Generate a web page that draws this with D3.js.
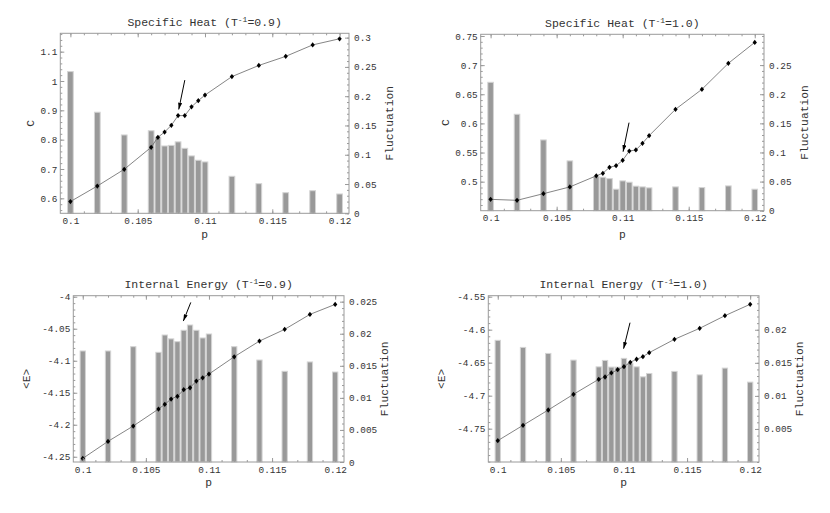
<!DOCTYPE html>
<html><head><meta charset="utf-8">
<script src="https://cdn.jsdelivr.net/npm/d3@7/dist/d3.min.js"></script>
<style>
body{margin:0;background:#fff}
svg{display:block}
text{font-family:"Liberation Mono","DejaVu Sans Mono",monospace;fill:#333}
</style>
</head><body>
<svg id="chart" width="830" height="513"></svg>
<script>
// ---------- data ----------
const pT09 = [0.1,0.102,0.104,0.106,0.1065,0.107,0.1075,0.108,0.1085,0.109,0.1095,0.11,0.112,0.114,0.116,0.118,0.12];
const pT10 = [0.1,0.102,0.104,0.106,0.108,0.1085,0.109,0.1095,0.11,0.1105,0.111,0.1115,0.112,0.114,0.116,0.118,0.12];

const heatT09 = [0.589,0.642,0.699,0.774,0.808,0.826,0.849,0.882,0.882,0.912,0.933,0.952,1.015,1.053,1.084,1.123,1.144];
const heatFluctT09 = [0.242,0.1726,0.1338,0.141,0.130,0.115,0.116,0.122,0.111,0.098,0.0906,0.0877,0.0632,0.0506,0.0352,0.0386,0.033];

const heatT10 = [0.4697,0.468,0.4794,0.491,0.510,0.5144,0.5247,0.5274,0.5367,0.5526,0.5544,0.5659,0.5789,0.6242,0.6585,0.7031,0.739];
const heatFluctT10 = [0.2205,0.1656,0.1215,0.0855,0.0585,0.0575,0.0551,0.0369,0.0512,0.0489,0.0421,0.0409,0.0392,0.0409,0.0397,0.0426,0.0369];

const energyT09 = [-4.2526,-4.226,-4.202,-4.1755,-4.1681,-4.1598,-4.1556,-4.1453,-4.1422,-4.1317,-4.1266,-4.1208,-4.0938,-4.0693,-4.051,-4.0276,-4.012];
const energyFluctT09 = [0.01731,0.01731,0.01798,0.0171,0.0198,0.0192,0.01876,0.02054,0.02136,0.02054,0.01934,0.01996,0.01798,0.0159,0.01414,0.0156,0.01403];

const energyT10 = [-4.7682,-4.7449,-4.7217,-4.6979,-4.6752,-4.6717,-4.6656,-4.6606,-4.6561,-4.6494,-4.6448,-4.6409,-4.6348,-4.6146,-4.5979,-4.5788,-4.5615];
const energyFluctT10 = [0.0184,0.01733,0.01642,0.01541,0.01439,0.01536,0.01435,0.01435,0.01567,0.01491,0.01439,0.01288,0.01339,0.0137,0.01318,0.0142,0.01208];

const xTicks = [0.1,0.105,0.11,0.115,0.12];
const xTickLabels = ["0.1","0.105","0.11","0.115","0.12"];

const heatT09Ticks = [0.6,0.7,0.8,0.9,1.0,1.1];
const heatT09Labels = ["0.6","0.7","0.8","0.9","1","1.1"];
const heatFluctT09Ticks = [0,0.05,0.1,0.15,0.2,0.25,0.3];
const heatFluctT09Labels = ["0","0.05","0.1","0.15","0.2","0.25","0.3"];

const heatT10Ticks = [0.5,0.55,0.6,0.65,0.7,0.75];
const heatT10Labels = ["0.5","0.55","0.6","0.65","0.7","0.75"];
const heatFluctT10Ticks = [0,0.05,0.1,0.15,0.2,0.25];
const heatFluctT10Labels = ["0","0.05","0.1","0.15","0.2","0.25"];

const energyT09Ticks = [-4,-4.05,-4.1,-4.15,-4.2,-4.25];
const energyT09Labels = ["-4","-4.05","-4.1","-4.15","-4.2","-4.25"];
const energyFluctT09Ticks = [0,0.005,0.01,0.015,0.02,0.025];
const energyFluctT09Labels = ["0","0.005","0.01","0.015","0.02","0.025"];

const energyT10Ticks = [-4.55,-4.6,-4.65,-4.7,-4.75];
const energyT10Labels = ["-4.55","-4.6","-4.65","-4.7","-4.75"];
const energyFluctT10Ticks = [0.005,0.01,0.015,0.02];
const energyFluctT10Labels = ["0.005","0.01","0.015","0.02"];

// arrows: [pStart, valueStart, pTip, valueTip]
const arrowHeatT09 = [0.1085, 1.003, 0.10805, 0.903];
const arrowHeatT10 = [0.11048, 0.6013, 0.11003, 0.5515];
const arrowEnergyT09 = [0.10856, -4.0089, 0.10797, -4.038];
const arrowEnergyT10 = [0.11048, -4.5894, 0.10997, -4.6288];

const barWidthP = 0.0005;

// ---------- layout ----------
const panels = [
  {box:[60.3,33.3,349,213.3], title:"Specific Heat", tval:"0.9", ylabel:"C",
   p:pT09, v:heatT09, f:heatFluctT09, yDom:[0.549,1.1626], fDom:[0,0.3074],
   yT:heatT09Ticks, yL:heatT09Labels, yMinor:0.02, fT:heatFluctT09Ticks, fL:heatFluctT09Labels, fMinor:0.01,
   arrow:arrowHeatT09, titleY:26, pY:237.5, ylabX:30},
  {box:[480.7,34.3,764,210.7], title:"Specific Heat", tval:"1.0", ylabel:"C",
   p:pT10, v:heatT10, f:heatFluctT10, yDom:[0.4502,0.7529], fDom:[0,0.3029],
   yT:heatT10Ticks, yL:heatT10Labels, yMinor:0.01, fT:heatFluctT10Ticks, fL:heatFluctT10Labels, fMinor:0.01,
   arrow:arrowHeatT10, titleY:27, pY:237.5, ylabX:445},
  {box:[73.3,295.7,344,462], title:"Internal Energy", tval:"0.9", ylabel:"<E>",
   p:pT09, v:energyT09, f:energyFluctT09, yDom:[-4.2582,-3.9984], fDom:[0,0.02593],
   yT:energyT09Ticks, yL:energyT09Labels, yMinor:0.01, fT:energyFluctT09Ticks, fL:energyFluctT09Labels, fMinor:0.001,
   arrow:arrowEnergyT09, titleY:288, pY:486, ylabX:26},
  {box:[488.3,295.7,759,462], title:"Internal Energy", tval:"1.0", ylabel:"<E>",
   p:pT10, v:energyT10, f:energyFluctT10, yDom:[-4.8005,-4.5485], fDom:[0,0.02515],
   yT:energyT10Ticks, yL:energyT10Labels, yMinor:0.01, fT:energyFluctT10Ticks, fL:energyFluctT10Labels, fMinor:0.001,
   arrow:arrowEnergyT10, titleY:288, pY:486, ylabX:441}
];

const svg = d3.select("#chart");
const defs = svg.append("defs");
defs.append("marker").attr("id","ah").attr("viewBox","0 0 10 6").attr("refX",10).attr("refY",3)
  .attr("markerWidth",7).attr("markerHeight",4).attr("markerUnits","userSpaceOnUse").attr("orient","auto")
  .append("path").attr("d","M0,0L10,3L0,6Z").attr("fill","#000");

const diamond = {draw(ctx,size){const h=Math.sqrt(size)*0.62,w=h*0.82;ctx.moveTo(0,-h);ctx.lineTo(w,0);ctx.lineTo(0,h);ctx.lineTo(-w,0);ctx.closePath();}};

function minorTicks(dom, step){
  const lo=Math.min(dom[0],dom[1]), hi=Math.max(dom[0],dom[1]);
  const out=[];
  for(let k=Math.ceil(lo/step-1e-9);k*step<=hi+1e-12;k++) out.push(+(k*step).toFixed(6));
  return out;
}

const frameColor="#9a9a9a";

panels.forEach(P=>{
  const [x0,y0,x1,y1]=P.box;
  const x=d3.scaleLinear().domain([0.09925,0.1207]).range([x0,x1]);
  const y=d3.scaleLinear().domain(P.yDom).range([y1,y0]);
  const yf=d3.scaleLinear().domain(P.fDom).range([y1,y0]);
  const g=svg.append("g");

  // bars
  g.append("g").selectAll("rect").data(P.p.map((p,i)=>({p,f:P.f[i]}))).join("rect")
    .attr("x",d=>x(d.p-barWidthP/2)+0.5).attr("width",d=>x(d.p+barWidthP/2)-x(d.p-barWidthP/2)-1)
    .attr("y",d=>yf(d.f)).attr("height",d=>yf(0)-yf(d.f))
    .attr("fill","#999").attr("stroke","#d4d4d4").attr("stroke-width",1);

  // line
  const pts=P.p.map((p,i)=>[p,P.v[i]]);
  g.append("path").datum(pts).attr("fill","none").attr("stroke","#666").attr("stroke-width",0.8)
    .attr("d",d3.line().x(d=>x(d[0])).y(d=>y(d[1])));
  g.append("g").selectAll("path").data(pts).join("path")
    .attr("transform",d=>`translate(${x(d[0])},${y(d[1])})`)
    .attr("d",d3.symbol().type(diamond).size(18)).attr("fill","#000");

  // arrow
  const a=P.arrow;
  g.append("line").attr("x1",x(a[0])).attr("y1",y(a[1])).attr("x2",x(a[2])).attr("y2",y(a[3]))
    .attr("stroke","#000").attr("stroke-width",1).attr("marker-end","url(#ah)");

  // frame
  g.append("rect").attr("x",x0).attr("y",y0).attr("width",x1-x0).attr("height",y1-y0)
    .attr("fill","none").attr("stroke",frameColor).attr("stroke-width",1);

  const styleAxis=(sel)=>{sel.select(".domain").remove();sel.selectAll("line").attr("stroke",frameColor);
    sel.selectAll("text").attr("fill","#333").style("font-family","'Liberation Mono',monospace").style("font-size","9.4px");};

  // bottom
  g.append("g").attr("transform",`translate(0,${y1})`)
    .call(d3.axisBottom(x).tickValues(minorTicks([0.09925,0.1207],0.001)).tickSize(-2).tickFormat(""))
    .call(styleAxis);
  g.append("g").attr("transform",`translate(0,${y1})`)
    .call(d3.axisBottom(x).tickValues(xTicks).tickSize(-4).tickPadding(4).tickFormat((d,i)=>xTickLabels[i]))
    .call(styleAxis);
  // top
  g.append("g").attr("transform",`translate(0,${y0})`)
    .call(d3.axisTop(x).tickValues(minorTicks([0.09925,0.1207],0.001)).tickSize(-2).tickFormat(""))
    .call(styleAxis);
  g.append("g").attr("transform",`translate(0,${y0})`)
    .call(d3.axisTop(x).tickValues(xTicks).tickSize(-4).tickFormat(""))
    .call(styleAxis);
  // left
  g.append("g").attr("transform",`translate(${x0},0)`)
    .call(d3.axisLeft(y).tickValues(minorTicks(P.yDom,P.yMinor)).tickSize(-2).tickFormat(""))
    .call(styleAxis);
  g.append("g").attr("transform",`translate(${x0},0)`)
    .call(d3.axisLeft(y).tickValues(P.yT).tickSize(-4).tickPadding(3).tickFormat((d,i)=>P.yL[i]))
    .call(styleAxis);
  // right
  g.append("g").attr("transform",`translate(${x1},0)`)
    .call(d3.axisRight(yf).tickValues(minorTicks(P.fDom,P.fMinor)).tickSize(-2).tickFormat(""))
    .call(styleAxis);
  g.append("g").attr("transform",`translate(${x1},0)`)
    .call(d3.axisRight(yf).tickValues(P.fT).tickSize(-4).tickPadding(5).tickFormat((d,i)=>P.fL[i]))
    .call(styleAxis);

  // title
  const cx=(x0+x1)/2;
  const t=g.append("text").attr("x",cx).attr("y",P.titleY).attr("text-anchor","middle").style("font-size","11.5px");
  t.append("tspan").text(P.title+" (T");
  t.append("tspan").attr("dy",-4).style("font-size","8px").text("-1");
  t.append("tspan").attr("dy",4).text("="+P.tval+")");

  // axis labels
  g.append("text").attr("x",cx).attr("y",P.pY).attr("text-anchor","middle").style("font-size","11.3px").text("p");
  const cy=(y0+y1)/2;
  g.append("text").attr("transform",`translate(${P.ylabX},${cy}) rotate(-90)`).attr("text-anchor","middle")
    .attr("dy","0.35em").style("font-size","11.3px").text(P.ylabel);
  g.append("text").attr("transform",`translate(${x1+40},${cy}) rotate(-90)`).attr("text-anchor","middle")
    .attr("dy","0.35em").style("font-size","11.3px").text("Fluctuation");
});
</script>
</body></html>
